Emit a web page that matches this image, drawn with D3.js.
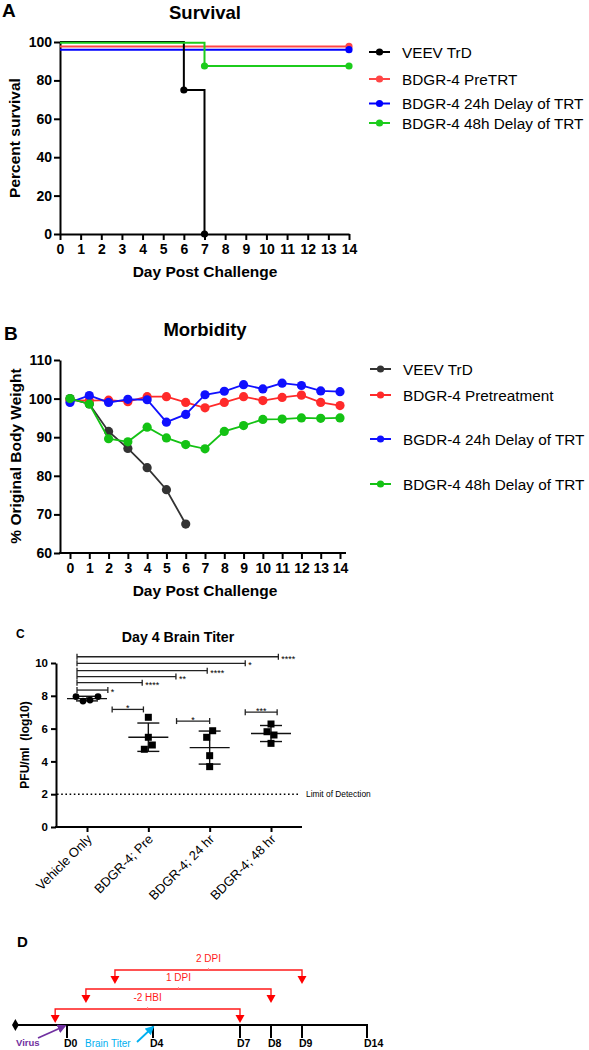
<!DOCTYPE html>
<html><head><meta charset="utf-8">
<script src="https://cdn.jsdelivr.net/npm/d3@7"></script>
<style>
body{margin:0;background:#fff}
svg{display:block}
text{font-family:"Liberation Sans",Arial,sans-serif;fill:#000}
</style>
</head><body>
<svg id="c" width="589" height="1050"></svg>
<script>
// ================= DATA =================
// Panel A: Kaplan-Meier survival (day, percent)
const survivalNames = ["VEEV TrD","BDGR-4 PreTRT","BDGR-4 24h Delay of TRT","BDGR-4 48h Delay of TRT"];
const survivalVEEV = [[0,100],[6,75],[7,0]];
const survivalPre  = [[0,97.7],[14,97.7]];
const survival24   = [[0,96],[14,96]];
const survival48   = [[0,99.6],[7,87.5],[14,87.5]];
const survivalYTicks = [0,20,40,60,80,100];
const dayTicks = [0,1,2,3,4,5,6,7,8,9,10,11,12,13,14];

// Panel B: % original body weight by day
const weightNames = ["VEEV TrD","BDGR-4 Pretreatment","BGDR-4 24h Delay of TRT","BDGR-4 48h Delay of TRT"];
const weightVEEV = [100,98.6,91.5,87.1,82.1,76.4,67.5];
const weightPre  = [99.6,99.5,99.6,99.2,100.5,100.5,99.0,97.6,99.0,100.5,99.5,100.3,100.9,99.0,98.2];
const weight24   = [99.0,100.8,99.0,99.8,99.7,93.9,95.9,101.0,101.9,103.6,102.5,104.0,103.4,102.0,101.8];
const weight48   = [100,98.6,89.6,88.8,92.6,89.8,88.1,87.0,91.5,93.0,94.6,94.7,95.0,94.9,95.0];
const weightYTicks = [60,70,80,90,100,110];

// Panel C: Day 4 brain titer (log10 PFU/ml)
const titerGroups = ["Vehicle Only","BDGR-4; Pre","BDGR-4; 24 hr","BDGR-4; 48 hr"];
const titerValues = [
  [7.95,7.68,7.74,7.95],
  [6.69,5.47,5.00,4.74],
  [5.87,5.47,4.35,3.68],
  [6.28,5.81,5.61,5.10]
];
const titerJitter = [[-11,-4,3,11],[0,0,4,-4],[3,-3,0,0],[0,-4,3,0]];
const titerYTicks = [0,2,4,6,8,10];
const limitOfDetection = 2;
// comparisons vs vehicle: bracket level (log10), reach (category units), label
const sigVsVehicle = [
  {level:8.35, reach:0.34, label:"*"},
  {level:8.80, reach:0.90, label:"****"},
  {level:9.17, reach:1.45, label:"**"},
  {level:9.53, reach:1.96, label:"****"},
  {level:9.98, reach:2.58, label:"*"},
  {level:10.38,reach:3.12, label:"****"}
];
const sigLocal = [
  {level:7.17, from:0.41, to:0.92, label:"*"},
  {level:6.46, from:1.46, to:2.00, label:"*"},
  {level:7.00, from:2.58, to:3.10, label:"***"}
];

// Panel D: study timeline
const timelineDays = [0,4,7,8,9,14];
const timelineLabels = ["D0","D4","D7","D8","D9","D14"];
const treatments = [
  {label:"-2 HBI", start:-0.55, end:7},
  {label:"1 DPI",  start:0.88,  end:8},
  {label:"2 DPI",  start:2.23,  end:9}
];

// ================= DRAW =================
const svg = d3.select("#c");
const BOLD = "bold";

function styleAxis(g, fs, weight){
  g.selectAll(".domain").attr("stroke","#000").attr("stroke-width",2);
  g.selectAll(".tick line").attr("stroke","#000").attr("stroke-width",2);
  g.selectAll(".tick text").attr("font-size",fs).attr("font-weight",weight)
   .attr("font-family","'Liberation Sans',Arial,sans-serif").attr("fill","#000");
}

// ---------- Panel A ----------
{
  const xA = d3.scaleLinear().domain([0,14]).range([60,349]);
  const yA = d3.scaleLinear().domain([0,100]).range([234,42]);
  const g = svg.append("g");
  g.append("text").attr("x",2).attr("y",17).attr("font-size",19).attr("font-weight",BOLD).text("A");
  g.append("text").attr("x",205).attr("y",18.5).attr("text-anchor","middle").attr("font-size",18.5).attr("font-weight",BOLD).text("Survival");

  g.append("g").attr("transform","translate(60,0)")
    .call(d3.axisLeft(yA).tickValues(survivalYTicks).tickSize(6).tickSizeOuter(0).tickPadding(2))
    .call(a=>styleAxis(a,14,BOLD));
  g.append("g").attr("transform","translate(0,234)")
    .call(d3.axisBottom(xA).tickValues(dayTicks).tickSize(6).tickSizeOuter(0).tickPadding(4))
    .call(a=>styleAxis(a,14,BOLD));

  g.append("text").attr("x",205).attr("y",277).attr("text-anchor","middle").attr("font-size",15.5).attr("font-weight",BOLD).text("Day Post Challenge");
  g.append("text").attr("transform","translate(19.5,138) rotate(-90)").attr("text-anchor","middle").attr("font-size",15.5).attr("font-weight",BOLD).text("Percent survival");

  const colsA = ["#000000","#ff4646","#0000ff","#1ccc1c"];
  const seriesA = [survivalVEEV,survivalPre,survival24,survival48];
  const line = d3.line().x(d=>xA(d[0])).y(d=>yA(d[1])).curve(d3.curveStepAfter);
  const order = [1,2,0,3];
  order.forEach(i=>{
    g.append("path").attr("d",line(seriesA[i])).attr("fill","none").attr("stroke",colsA[i]).attr("stroke-width",2);
    g.selectAll(null).data(seriesA[i].slice(1)).enter().append("circle")
      .attr("cx",d=>xA(d[0])).attr("cy",d=>yA(d[1])).attr("r",3.6).attr("fill",colsA[i]);
  });
  const legY = [52,79,103.5,123];
  survivalNames.forEach((n,i)=>{
    g.append("line").attr("x1",369).attr("x2",390).attr("y1",legY[i]).attr("y2",legY[i]).attr("stroke",colsA[i]).attr("stroke-width",2);
    g.append("circle").attr("cx",379.5).attr("cy",legY[i]).attr("r",3.6).attr("fill",colsA[i]);
    g.append("text").attr("x",402).attr("y",legY[i]).attr("dy","0.36em").attr("font-size",15.3).text(n);
  });
}

// ---------- Panel B ----------
{
  const xB = d3.scaleLinear().domain([0,14]).range([70,340]);
  const yB = d3.scaleLinear().domain([60,110]).range([553,360]);
  const g = svg.append("g");
  g.append("text").attr("x",4).attr("y",340).attr("font-size",19).attr("font-weight",BOLD).text("B");
  g.append("text").attr("x",205).attr("y",336).attr("text-anchor","middle").attr("font-size",18.5).attr("font-weight",BOLD).text("Morbidity");

  g.append("g").attr("transform","translate(60,0)")
    .call(d3.axisLeft(yB).tickValues(weightYTicks).tickSize(6).tickSizeOuter(0).tickPadding(2))
    .call(a=>styleAxis(a,14,BOLD));
  g.append("g").attr("transform","translate(0,553)")
    .call(d3.axisBottom(xB).tickValues(dayTicks).tickSize(6).tickSizeOuter(0).tickPadding(4))
    .call(a=>a.select(".domain").remove())
    .call(a=>styleAxis(a,14,BOLD));
  g.append("line").attr("x1",59).attr("x2",346).attr("y1",553).attr("y2",553).attr("stroke","#000").attr("stroke-width",2);

  g.append("text").attr("x",205).attr("y",596).attr("text-anchor","middle").attr("font-size",15.5).attr("font-weight",BOLD).text("Day Post Challenge");
  g.append("text").attr("transform","translate(20.5,456) rotate(-90)").attr("text-anchor","middle").attr("font-size",15.5).attr("font-weight",BOLD).text("% Original Body Weight");

  const colsB = ["#333333","#ff2a2a","#1010ff","#14c214"];
  const seriesB = [weightVEEV,weightPre,weight24,weight48];
  const line = d3.line().x((d,i)=>xB(i)).y(d=>yB(d));
  seriesB.forEach((s,k)=>{
    g.append("path").attr("d",line(s)).attr("fill","none").attr("stroke",colsB[k]).attr("stroke-width",1.8);
    g.selectAll(null).data(s).enter().append("circle")
      .attr("cx",(d,i)=>xB(i)).attr("cy",d=>yB(d)).attr("r",4.6).attr("fill",colsB[k]);
  });
  const legY = [369,395,439,484];
  weightNames.forEach((n,i)=>{
    g.append("line").attr("x1",370).attr("x2",391).attr("y1",legY[i]).attr("y2",legY[i]).attr("stroke",colsB[i]).attr("stroke-width",2);
    g.append("circle").attr("cx",380.5).attr("cy",legY[i]).attr("r",3.6).attr("fill",colsB[i]);
    g.append("text").attr("x",403).attr("y",legY[i]).attr("dy","0.36em").attr("font-size",15.3).text(n);
  });
}

// ---------- Panel C ----------
{
  const yC = d3.scaleLinear().domain([0,10]).range([827,663]);
  const xi = d3.scaleLinear().domain([0,3]).range([87,271]);
  const xC = d3.scalePoint().domain(titerGroups).range([87,271]);
  const g = svg.append("g");
  g.append("text").attr("x",16).attr("y",638).attr("font-size",12).attr("font-weight",BOLD).text("C");
  g.append("text").attr("x",178).attr("y",642).attr("text-anchor","middle").attr("font-size",14.2).attr("font-weight",BOLD).text("Day 4 Brain Titer");

  g.append("g").attr("transform","translate(56,0)")
    .call(d3.axisLeft(yC).tickValues(titerYTicks).tickSize(5).tickSizeOuter(0).tickPadding(3))
    .call(a=>styleAxis(a,11.5,BOLD));
  const xg = g.append("g").attr("transform","translate(0,827)")
    .call(d3.axisBottom(xC).tickSize(5).tickSizeOuter(0))
    .call(a=>a.select(".domain").remove())
    .call(a=>styleAxis(a,13,"normal"));
  xg.selectAll(".tick text").attr("text-anchor","end").attr("dy",0).attr("y",0)
    .attr("transform","translate(5,13) rotate(-45)");
  g.append("line").attr("x1",55).attr("x2",302).attr("y1",827).attr("y2",827).attr("stroke","#000").attr("stroke-width",2);

  g.append("text").attr("transform","translate(29,745) rotate(-90)").attr("text-anchor","middle")
    .attr("font-size",12).attr("font-weight",BOLD).style("white-space","pre").text("PFU/ml  (log10)");

  // limit of detection
  g.append("line").attr("x1",57).attr("x2",300).attr("y1",yC(limitOfDetection)).attr("y2",yC(limitOfDetection))
    .attr("stroke","#000").attr("stroke-width",1.6).attr("stroke-dasharray","1.6,2.6");
  g.append("text").attr("x",306).attr("y",yC(limitOfDetection)).attr("dy","0.35em").attr("font-size",8.4).text("Limit of Detection");

  // points, means, sd
  titerValues.forEach((vals,k)=>{
    const cx = xi(k);
    const m = d3.mean(vals), sd = d3.deviation(vals);
    g.append("line").attr("x1",cx-20).attr("x2",cx+20).attr("y1",yC(m)).attr("y2",yC(m)).attr("stroke","#111").attr("stroke-width",1.4);
    g.append("line").attr("x1",cx).attr("x2",cx).attr("y1",yC(m+sd)).attr("y2",yC(m-sd)).attr("stroke","#111").attr("stroke-width",1.4);
    [m+sd,m-sd].forEach(v=>g.append("line").attr("x1",cx-11).attr("x2",cx+11).attr("y1",yC(v)).attr("y2",yC(v)).attr("stroke","#111").attr("stroke-width",1.4));
    vals.forEach((v,j)=>{
      const px = cx + titerJitter[k][j], py = yC(v);
      if(k===0) g.append("circle").attr("cx",px).attr("cy",py).attr("r",3.4).attr("fill","#000");
      else g.append("rect").attr("x",px-3.5).attr("y",py-3.5).attr("width",7).attr("height",7).attr("fill","#000");
    });
  });

  function bracket(x1,x2,y){
    g.append("line").attr("x1",x1).attr("x2",x2).attr("y1",y).attr("y2",y).attr("stroke","#222").attr("stroke-width",1.3);
    [x1,x2].forEach(x=>g.append("line").attr("x1",x).attr("x2",x).attr("y1",y-3).attr("y2",y+3).attr("stroke","#222").attr("stroke-width",1.3));
  }
  const vehLeft = xi(0) - 10;
  sigVsVehicle.forEach(s=>{
    const y = yC(s.level), x2 = xi(s.reach);
    bracket(vehLeft,x2,y);
    g.append("text").attr("x",x2+3).attr("y",y+5).attr("font-size",9).text(s.label);
  });
  sigLocal.forEach(s=>{
    const y = yC(s.level), x1 = xi(s.from), x2 = xi(s.to);
    bracket(x1,x2,y);
    g.append("text").attr("x",(x1+x2)/2).attr("y",y+1.5).attr("text-anchor","middle").attr("font-size",9).text(s.label);
  });
}

// ---------- Panel D ----------
{
  const xD = d3.scaleLinear().domain([0,4,7,8,9,14]).range([67,153,240,271,302,367]);
  const g = svg.append("g");
  const DF = "'DejaVu Sans',sans-serif";
  g.append("text").attr("x",17).attr("y",947).attr("font-size",15).attr("font-weight",BOLD).text("D");
  const lineY = 1025;
  const startDay = -2.4;
  g.append("line").attr("x1",xD(startDay)).attr("x2",xD(14)+1).attr("y1",lineY).attr("y2",lineY).attr("stroke","#000").attr("stroke-width",2);
  g.append("path").attr("d",d3.symbol(d3.symbolDiamond,40)()).attr("transform",`translate(${xD(startDay)},${lineY})`).attr("fill","#000");
  timelineDays.forEach((d,i)=>{
    g.append("line").attr("x1",xD(d)).attr("x2",xD(d)).attr("y1",lineY).attr("y2",lineY+13).attr("stroke","#000").attr("stroke-width",2);
    g.append("text").attr("x",xD(d)-3).attr("y",1047).attr("font-family",DF).attr("font-size",10.5).attr("font-weight",BOLD).text(timelineLabels[i]);
  });
  const levels = [1009,989,970];
  treatments.forEach((t,i)=>{
    const y = levels[i], x1 = xD(t.start), x2 = xD(t.end);
    g.append("path").attr("d",`M${x1},${y+6}V${y}H${x2}V${y+6}`).attr("fill","none").attr("stroke","#ff1a1a").attr("stroke-width",1.4);
    [x1,x2].forEach(x=>g.append("path").attr("d",`M${x-4.5},${y+6}L${x+4.5},${y+6}L${x},${y+14}Z`).attr("fill","#ff0000"));
    g.append("line").attr("x1",(x1+x2)/2).attr("x2",(x1+x2)/2).attr("y1",y-2).attr("y2",y).attr("stroke","#f88").attr("stroke-width",1);
    g.append("text").attr("x",(x1+x2)/2).attr("y",y-8).attr("text-anchor","middle").attr("font-family",DF).attr("font-size",10)
      .style("fill","#ff1a1a").text(t.label);
  });
  // annotation arrows
  const defs = svg.append("defs");
  [["ap","#7030a0"],["ab","#00b0f0"]].forEach(([id,c])=>{
    defs.append("marker").attr("id",id).attr("viewBox","0 0 10 10").attr("refX",8).attr("refY",5)
      .attr("markerWidth",5).attr("markerHeight",5).attr("orient","auto")
      .append("path").attr("d","M0,0L10,5L0,10Z").attr("fill",c);
  });
  g.append("line").attr("x1",38).attr("y1",1038).attr("x2",xD(-0.1)).attr("y2",lineY+1)
    .attr("stroke","#7030a0").attr("stroke-width",1.8).attr("marker-end","url(#ap)");
  g.append("text").attr("x",16).attr("y",1046).attr("font-family",DF).attr("font-size",9.5).attr("font-weight",BOLD)
    .style("fill","#7030a0").text("Virus");
  g.append("line").attr("x1",137).attr("y1",1042).attr("x2",xD(4)).attr("y2",lineY+2)
    .attr("stroke","#00b0f0").attr("stroke-width",1.8).attr("marker-end","url(#ab)");
  g.append("text").attr("x",85).attr("y",1047).attr("font-family",DF).attr("font-size",10)
    .style("fill","#00b0f0").text("Brain Titer");
}
</script>
</body></html>
